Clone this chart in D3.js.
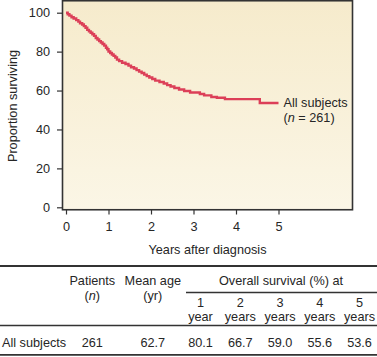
<!DOCTYPE html>
<html>
<head>
<meta charset="utf-8">
<script src="https://cdn.jsdelivr.net/npm/d3@7"></script>
<style>
  html, body { margin: 0; padding: 0; background: #ffffff; }
  svg { display: block; }
  text { font-family: "Liberation Sans", Arial, Helvetica, sans-serif; }
</style>
</head>
<body>
<svg id="chart" width="377" height="357"></svg>
<script>
// ---- Data ----
const xTicks = [0, 1, 2, 3, 4, 5];
const yTicks = [0, 20, 40, 60, 80, 100];
const kmTime = [0, 0.04, 0.08, 0.13, 0.18, 0.24, 0.29, 0.33, 0.38, 0.42, 0.46, 0.5, 0.54, 0.58, 0.62, 0.66, 0.7, 0.74, 0.78, 0.82, 0.86, 0.9, 0.94, 0.97, 1.0, 1.04, 1.08, 1.12, 1.16, 1.2, 1.25, 1.32, 1.4, 1.47, 1.53, 1.6, 1.66, 1.72, 1.78, 1.84, 1.9, 1.96, 2.03, 2.1, 2.2, 2.3, 2.38, 2.46, 2.55, 2.66, 2.78, 2.92, 3.15, 3.25, 3.42, 3.55, 3.74, 4.56, 5.0];
const kmSurv = [100, 99.2, 98.5, 97.7, 97.0, 96.2, 95.4, 94.6, 93.9, 93.1, 92.3, 91.2, 90.4, 89.7, 88.9, 88.1, 87.0, 86.2, 85.4, 84.7, 83.9, 83.1, 82.0, 81.2, 80.1, 79.3, 78.5, 77.8, 77.0, 75.9, 75.1, 74.3, 73.6, 72.8, 72.0, 71.3, 70.5, 69.7, 69.0, 68.2, 67.4, 66.7, 65.9, 65.1, 64.4, 63.6, 62.8, 62.1, 61.3, 60.5, 59.8, 59.0, 58.2, 57.5, 56.7, 56.3, 55.6, 53.6, 53.6];
const seriesLabel = "All subjects";
const seriesN = 261;

const tableGroups = ["All subjects"];
const tablePatients = [261];
const tableMeanAge = ["62.7"];
const survYears = ["1", "2", "3", "4", "5"];
const survUnits = ["year", "years", "years", "years", "years"];
const survValues = ["80.1", "66.7", "59.0", "55.6", "53.6"];

// ---- Drawing ----
const svg = d3.select("#chart");
const ink = "#262626";
const FS = 12.7;

const x = d3.scaleLinear().domain([0, 5]).range([66, 278.5]);
const y = d3.scaleLinear().domain([0, 100]).range([207.3, 12.7]);

const defs = svg.append("defs");
const grad = defs.append("linearGradient").attr("id", "bg")
  .attr("x1", 0).attr("y1", 0).attr("x2", 0).attr("y2", 1);
grad.append("stop").attr("offset", "0%").attr("stop-color", "#f6ebcc");
grad.append("stop").attr("offset", "100%").attr("stop-color", "#fbf6e6");

// plot box
svg.append("rect")
  .attr("x", 62.5).attr("y", 0.75)
  .attr("width", 290).attr("height", 209)
  .attr("fill", "url(#bg)")
  .attr("stroke", "#333").attr("stroke-width", 1.6);

// y axis
const yAxis = svg.append("g").attr("transform", "translate(62,0)")
  .call(d3.axisLeft(y).tickValues(yTicks).tickFormat(d3.format("d")).tickSize(5).tickSizeOuter(0).tickPadding(7));
yAxis.select(".domain").remove();
yAxis.selectAll(".tick line").attr("stroke", "#333").attr("stroke-width", 1.2);
yAxis.selectAll(".tick text").attr("fill", ink).style("font-size", FS + "px")
  .style("font-family", '"Liberation Sans", Arial, sans-serif');

// x axis
const xAxis = svg.append("g").attr("transform", "translate(0,210)")
  .call(d3.axisBottom(x).tickValues(xTicks).tickFormat(d3.format("d")).tickSize(4.5).tickSizeOuter(0).tickPadding(7.5));
xAxis.select(".domain").remove();
xAxis.selectAll(".tick line").attr("stroke", "#333").attr("stroke-width", 1.2);
xAxis.selectAll(".tick text").attr("fill", ink).style("font-size", FS + "px")
  .style("font-family", '"Liberation Sans", Arial, sans-serif');

// axis titles
svg.append("text")
  .attr("x", 207.5).attr("y", 254)
  .attr("text-anchor", "middle").attr("fill", ink)
  .style("font-size", FS + "px")
  .text("Years after diagnosis");

svg.append("text")
  .attr("transform", "translate(16.8,106) rotate(-90)")
  .attr("text-anchor", "middle").attr("fill", ink)
  .style("font-size", FS + "px")
  .text("Proportion surviving");

// KM curve
const km = kmTime.map((t, i) => ({ t, s: kmSurv[i] }));
const line = d3.line().x(d => x(d.t)).y(d => y(d.s)).curve(d3.curveStepAfter);
svg.append("path")
  .datum(km)
  .attr("d", line)
  .attr("fill", "none")
  .attr("stroke", "#dc3f58")
  .attr("stroke-width", 2.4)
  .attr("stroke-linejoin", "miter");

// curve label
const last = km[km.length - 1];
const lbl = svg.append("text")
  .attr("x", x(last.t) + 5).attr("y", y(last.s) + 3.9)
  .attr("fill", ink).style("font-size", FS + "px");
lbl.append("tspan").text(seriesLabel);
const lbl2 = svg.append("text")
  .attr("x", x(last.t) + 5).attr("y", y(last.s) + 18.9)
  .attr("fill", ink).style("font-size", FS + "px");
lbl2.append("tspan").text("(");
lbl2.append("tspan").style("font-style", "italic").text("n");
lbl2.append("tspan").text(" = " + seriesN + ")");

// ---- Table ----
const tbl = svg.append("g");
const hline = (y0, x0, x1, w) => tbl.append("line")
  .attr("x1", x0).attr("x2", x1).attr("y1", y0).attr("y2", y0)
  .attr("stroke", "#333").attr("stroke-width", w);
hline(266, 0, 377, 1.8);
hline(292.5, 186, 377, 1.4);
hline(325.5, 0, 377, 1.4);
hline(354.8, 0, 377, 1.8);

const tx = (xx, yy, anchor) => tbl.append("text")
  .attr("x", xx).attr("y", yy).attr("text-anchor", anchor)
  .attr("fill", ink).style("font-size", FS + "px");

const colPatients = 92.3, colAge = 152.8;
tx(colPatients, 285.3, "middle").text("Patients");
const nH = tx(colPatients, 299.5, "middle");
nH.append("tspan").text("(");
nH.append("tspan").style("font-style", "italic").text("n");
nH.append("tspan").text(")");
tx(colAge, 285.3, "middle").text("Mean age");
tx(colAge, 299.5, "middle").text("(yr)");
tx(281, 285.3, "middle").text("Overall survival (%) at");

const sc = d3.scalePoint().domain(survYears).range([200.5, 359.5]);
survYears.forEach((yr, i) => {
  tx(sc(yr), 307.3, "middle").text(yr);
  tx(sc(yr), 321.3, "middle").text(survUnits[i]);
  tx(sc(yr), 347.2, "middle").text(survValues[i]);
});

tableGroups.forEach((g, i) => {
  tx(2, 347.2, "start").text(g);
  tx(colPatients, 347.2, "middle").text(tablePatients[i]);
  tx(colAge, 347.2, "middle").text(tableMeanAge[i]);
});
</script>
</body>
</html>
